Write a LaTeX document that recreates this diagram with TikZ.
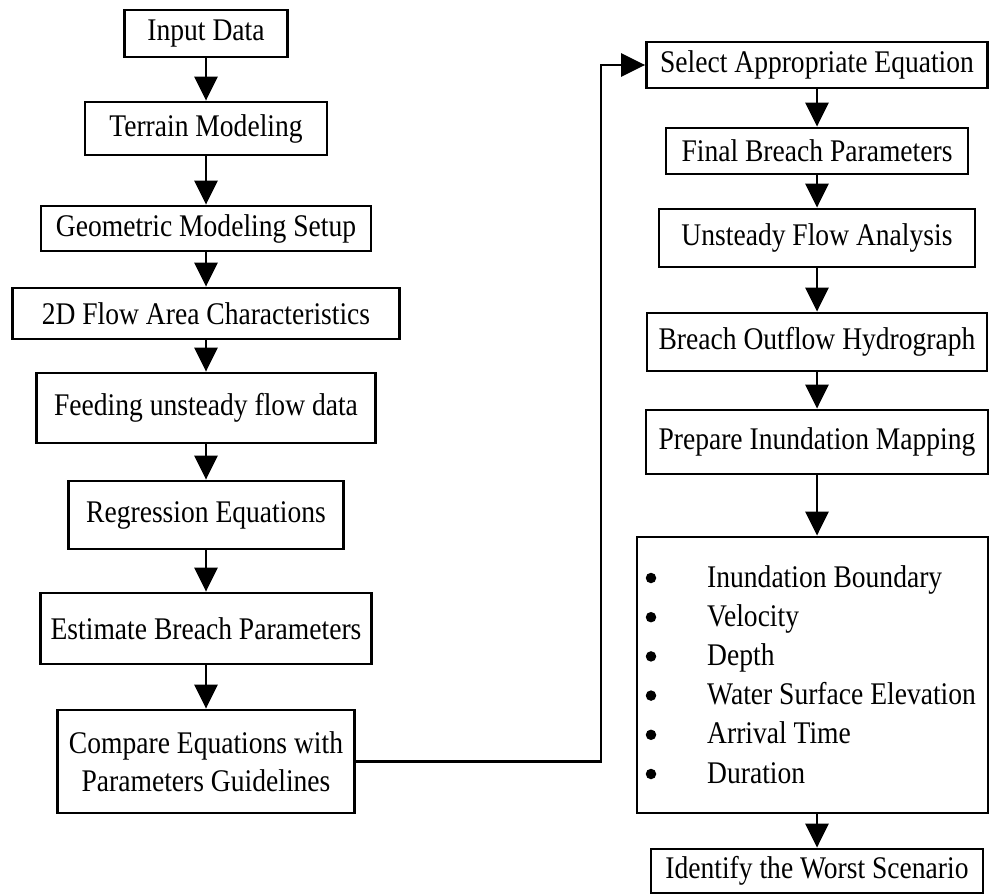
\documentclass[tikz,border=0pt]{standalone}
\usepackage{fontspec}
\setmainfont{Liberation Serif}[FakeStretch=0.875]
\usetikzlibrary{arrows.meta}

\begin{document}
\begin{tikzpicture}[x=1pt, y=-1pt,
    every node/.style={font=\fontsize{31.5}{38}\selectfont},
    stepbox/.style={draw, line width=2.8pt, inner sep=0pt, align=center},
    flow/.style={line width=2.8pt, line join=miter, -{Triangle[length=24pt,width=23pt]}},
    item/.style={anchor=base west, inner sep=0pt},
    dot/.style={circle, fill, inner sep=0pt, minimum size=10.5pt}
  ]
  \useasboundingbox (0,0) rectangle (989,894);

  % left column
  \node[stepbox, minimum width=163pt, minimum height=47pt]  (in)   at (206,33.5)  {Input Data};
  \node[stepbox, minimum width=242pt, minimum height=53pt]  (ter)  at (206,128.5) {Terrain Modeling};
  \node[stepbox, minimum width=330pt, minimum height=45pt]  (geo)  at (206,228.5) {Geometric Modeling Setup};
  \node[stepbox, minimum width=387pt, minimum height=51pt]  (fa)   at (206,313.5) {2D Flow Area Characteristics};
  \node[stepbox, minimum width=339pt, minimum height=70pt]  (feed) at (206,408)   {Feeding unsteady flow data};
  \node[stepbox, minimum width=275pt, minimum height=68pt]  (reg)  at (206,515)   {Regression Equations};
  \node[stepbox, minimum width=331pt, minimum height=71pt]  (est)  at (206,628.5) {Estimate Breach Parameters};
  \node[stepbox, minimum width=297pt, minimum height=103pt] (cmp)  at (206,761.5) {Compare Equations with\\Parameters Guidelines};

  % right column
  \node[stepbox, minimum width=341pt, minimum height=46pt]  (sel)  at (817,65)    {Select Appropriate Equation};
  \node[stepbox, minimum width=302pt, minimum height=46pt]  (fin)  at (817,151)   {Final Breach Parameters};
  \node[stepbox, minimum width=316pt, minimum height=58pt]  (uns)  at (817,238)   {Unsteady Flow Analysis};
  \node[stepbox, minimum width=340pt, minimum height=58pt]  (out)  at (817,342)   {Breach Outflow Hydrograph};
  \node[stepbox, minimum width=342pt, minimum height=64pt]  (prep) at (817,442)   {Prepare Inundation Mapping};
  \node[stepbox, minimum width=351pt, minimum height=276pt] (res)  at (812.5,675) {};
  \node[stepbox, minimum width=332pt, minimum height=44pt]  (wst)  at (817,871)   {Identify the Worst Scenario};

  % mapped results listed in the box
  \foreach \t [count=\i from 0] in {Inundation Boundary, Velocity, Depth,
      Water Surface Elevation, Arrival Time, Duration} {
    \node[dot] (b\i) at (651,578+39.2*\i) {};
    \node[item] (t\i) at (707,587+39.2*\i) {\t};
  }

  % connectors
  \draw[flow] (in.south)   -- (ter.north);
  \draw[flow] (ter.south)  -- (geo.north);
  \draw[flow] (geo.south)  -- (fa.north);
  \draw[flow] (fa.south)   -- (feed.north);
  \draw[flow] (feed.south) -- (reg.north);
  \draw[flow] (reg.south)  -- (est.north);
  \draw[flow] (est.south)  -- (cmp.north);
  \draw[flow] (cmp.east) -- ++(245,0) |- (sel.west);
  \draw[flow] (sel.south)  -- (fin.north);
  \draw[flow] (fin.south)  -- (uns.north);
  \draw[flow] (uns.south)  -- (out.north);
  \draw[flow] (out.south)  -- (prep.north);
  \draw[flow] (prep.south) -- (prep.south |- res.north);
  \draw[flow] (wst.north |- res.south) -- (wst.north);
\end{tikzpicture}
\end{document}
